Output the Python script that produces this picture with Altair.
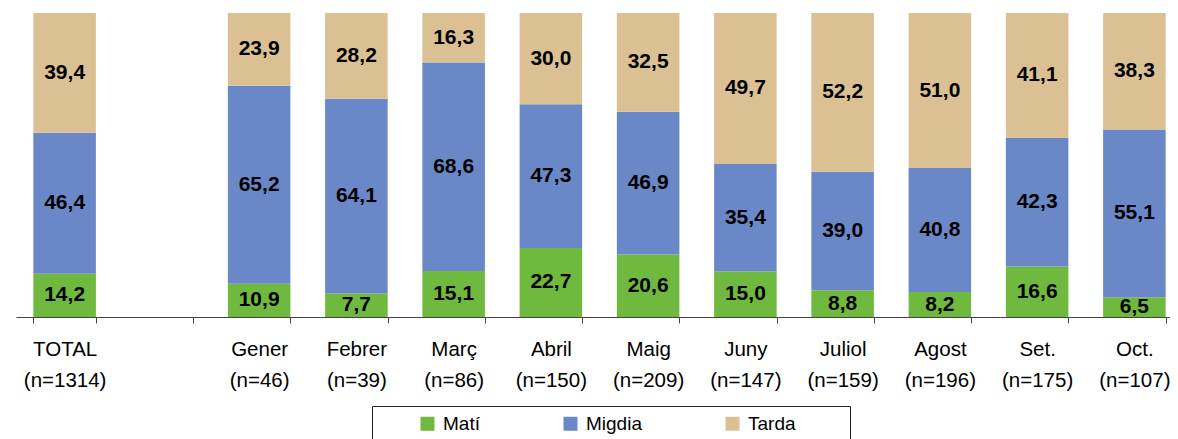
import altair as alt
import pandas as pd

categories = ["TOTAL", "Gener", "Febrer", "Març", "Abril", "Maig", "Juny",
              "Juliol", "Agost", "Set.", "Oct."]
n_values = [1314, 46, 39, 86, 150, 209, 147, 159, 196, 175, 107]
mati = [14.2, 10.9, 7.7, 15.1, 22.7, 20.6, 15.0, 8.8, 8.2, 16.6, 6.5]
migdia = [46.4, 65.2, 64.1, 68.6, 47.3, 46.9, 35.4, 39.0, 40.8, 42.3, 55.1]
tarda = [39.4, 23.9, 28.2, 16.3, 30.0, 32.5, 49.7, 52.2, 51.0, 41.1, 38.3]
series = ["Matí", "Migdia", "Tarda"]
colors = ["#70B93F", "#6A88C8", "#DBC093"]

labels = [f"{c}|(n={n})" for c, n in zip(categories, n_values)]
domain = [labels[0], " "] + labels[1:]

rows = []
for lab, vals in zip(labels, zip(mati, migdia, tarda)):
    for i, (s, v) in enumerate(zip(series, vals)):
        rows.append({"cat": lab, "serie": s, "ord": i, "val": v,
                     "txt": f"{v:.1f}".replace(".", ",")})
df = pd.DataFrame(rows)

FONT = "Liberation Sans"
nb = "\u00a0"
blank = "\u2800"

base = alt.Chart(df).transform_stack(
    stack="val", groupby=["cat"], as_=["y0", "y1"], offset="normalize",
    sort=[alt.SortField("ord", order="ascending")]
).transform_calculate(ym="(datum.y0 + datum.y1) / 2")

xscale = alt.Scale(domain=domain, range=[0, 1167], paddingInner=0.357, paddingOuter=0.1785)

xenc = alt.X("cat:N", scale=xscale, sort=domain,
             axis=alt.Axis(title=None, labelExpr="split(datum.label, '|')",
                           labelAngle=0, labelFont=FONT, labelFontSize=20.5,
                           labelColor="#000", labelLineHeight=31, labelPadding=16,
                           labelBaseline="top",
                           tickBand="extent", tickSize=6, tickColor="#444",
                           domainColor="#444", labelLimit=200))

bars = base.mark_bar().encode(
    x=xenc,
    y=alt.Y("y0:Q", scale=alt.Scale(domain=[0, 1], nice=False), axis=None),
    y2="y1:Q",
    color=alt.Color("serie:N", scale=alt.Scale(domain=series, range=colors),
                    legend=alt.Legend(
                        title="." + nb * 4 + ".", titleOrient="left", titlePadding=6,
                        titleFont=FONT, titleFontSize=19, titleColor="white",
                        orient="none", direction="horizontal",
                        legendX=356, legendY=393,
                        strokeColor="#222", fillColor="white", padding=8,
                        symbolType="square", symbolSize=196, symbolStrokeWidth=0,
                        labelFont=FONT, labelFontSize=19, labelColor="#000",
                        labelOffset=6, columnPadding=81,
                        labelExpr=f"datum.label == 'Tarda' ? datum.label + '{nb * 6}{blank}' : datum.label")),
)

texts = base.mark_text(font=FONT, fontSize=21, fontWeight="bold", color="#000").encode(
    x=alt.X("cat:N", sort=domain, scale=xscale),
    y=alt.Y("ym:Q"),
    text="txt:N",
)

chart = alt.layer(bars, texts).properties(
    width=1154, height=304,
    autosize=alt.AutoSizeParams(type="none"),
    padding={"left": 8, "top": 5, "right": 0, "bottom": 122},
).configure_view(stroke=None)

chart.save("out.html", embed_options={"renderer": "svg", "actions": False})
